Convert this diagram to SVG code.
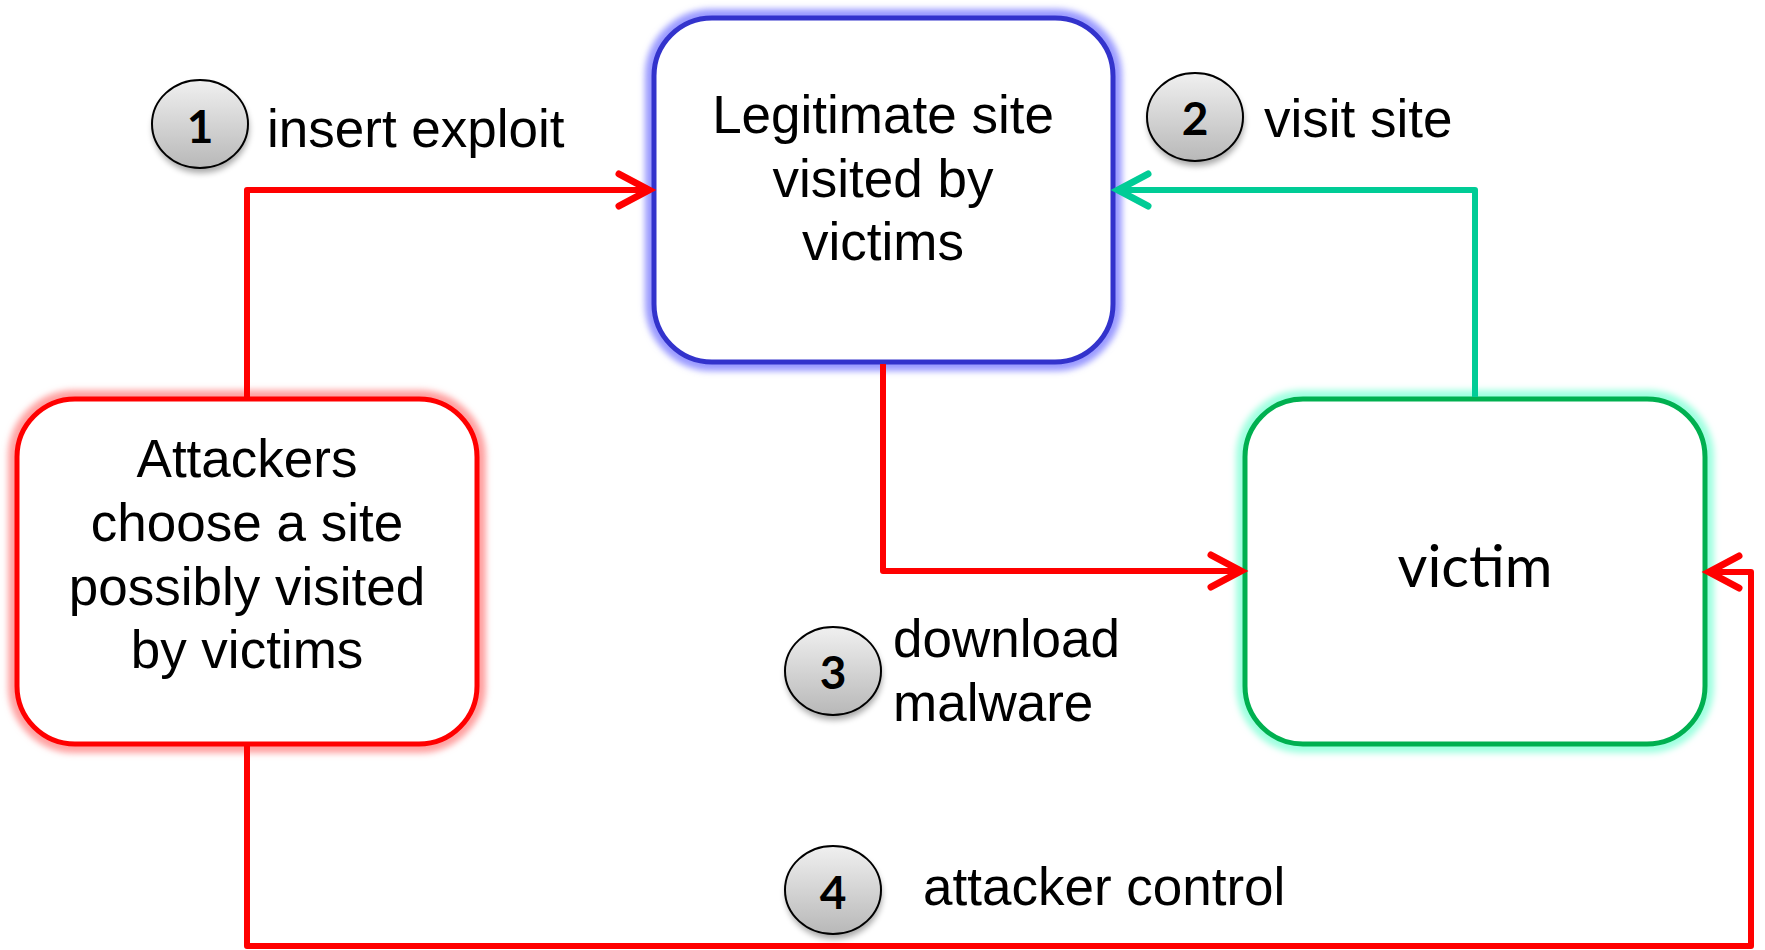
<svg xmlns="http://www.w3.org/2000/svg" width="1765" height="950" viewBox="0 0 1765 950">
  <style>
    .lbl { font-family: "Liberation Sans", Arial, sans-serif; font-size: 53px; fill: #000; }
    .mid { text-anchor: middle; }
    .num { font-family: Lato, "Open Sans", sans-serif; font-weight: bold; font-size: 46px; fill: #000; text-anchor: middle; }
    .box { fill: #fff; stroke-width: 5; }
    .halo { fill: none; stroke-width: 18; filter: url(#soft); }
    .badge { fill: url(#badgeFill); stroke: #000; stroke-width: 2; }
    .badge-shadow { fill: #000; opacity: 0.35; filter: url(#shade); }
    .wire { fill: none; stroke-width: 6; stroke-linejoin: round; }
  </style>
  <defs>
    <filter id="soft" x="-10%" y="-10%" width="120%" height="120%">
      <feGaussianBlur stdDeviation="3"/>
    </filter>
    <filter id="shade" x="-30%" y="-30%" width="160%" height="160%">
      <feGaussianBlur stdDeviation="3"/>
    </filter>
    <linearGradient id="badgeFill" x1="0" y1="0" x2="0" y2="1">
      <stop offset="0" stop-color="#f0f0f0"/>
      <stop offset="1" stop-color="#b8b8b8"/>
    </linearGradient>
    <marker id="headRed" markerUnits="userSpaceOnUse" markerWidth="50" markerHeight="50" viewBox="-40 -25 50 50" refX="0" refY="0" orient="auto" overflow="visible">
      <path d="M -31 -16 L -1 0 L -31 16" fill="none" stroke="#ff0000" stroke-width="7" stroke-linecap="round" stroke-linejoin="miter"/>
    </marker>
    <marker id="headTeal" markerUnits="userSpaceOnUse" markerWidth="50" markerHeight="50" viewBox="-40 -25 50 50" refX="0" refY="0" orient="auto" overflow="visible">
      <path d="M -31 -16 L -1 0 L -31 16" fill="none" stroke="#00cc96" stroke-width="7" stroke-linecap="round" stroke-linejoin="miter"/>
    </marker>
  </defs>

  <rect width="1765" height="950" fill="#fff"/>

  <!-- legitimate site -->
  <g id="site">
    <rect class="halo" x="654" y="18" width="459" height="344" rx="58" stroke="#9a9aff"/>
    <rect class="box" x="654" y="18" width="459" height="344" rx="58" stroke="#3333cc"/>
    <text class="lbl mid" x="883" y="133">Legitimate site</text>
    <text class="lbl mid" x="883" y="197">visited by</text>
    <text class="lbl mid" x="883" y="260">victims</text>
  </g>

  <!-- attackers -->
  <g id="attackers">
    <rect class="halo" x="17" y="399" width="460" height="345" rx="58" stroke="#ffa0a0"/>
    <rect class="box" x="17" y="399" width="460" height="345" rx="58" stroke="#ff0000"/>
    <text class="lbl mid" x="247" y="477">Attackers</text>
    <text class="lbl mid" x="247" y="541">choose a site</text>
    <text class="lbl mid" x="247" y="605">possibly visited</text>
    <text class="lbl mid" x="247" y="668">by victims</text>
  </g>

  <!-- victim -->
  <g id="victim">
    <rect class="halo" x="1245" y="399" width="460" height="345" rx="58" stroke="#9fffe0"/>
    <rect class="box" x="1245" y="399" width="460" height="345" rx="58" stroke="#00b050"/>
    <text x="1475" y="587" text-anchor="middle" font-family="Lato, 'Open Sans', sans-serif" font-size="58" fill="#000">victim</text>
  </g>

  <!-- connectors -->
  <g id="connectors">
    <path class="wire" stroke="#ff0000" d="M 247 397 V 190 H 650" marker-end="url(#headRed)"/>
    <path class="wire" stroke="#00cc96" d="M 1475 397 V 190 H 1117" marker-end="url(#headTeal)"/>
    <path class="wire" stroke="#ff0000" d="M 883 364 V 571 H 1242" marker-end="url(#headRed)"/>
    <path class="wire" stroke="#ff0000" d="M 247 746 V 946 H 1751 V 572 H 1708" marker-end="url(#headRed)"/>
  </g>

  <!-- step badges -->
  <g id="step1">
    <ellipse class="badge-shadow" cx="201" cy="129" rx="48" ry="44"/>
    <ellipse class="badge" cx="200" cy="124" rx="48" ry="44"/>
    <text class="num" x="200" y="143">1</text>
    <text class="lbl" x="267" y="147">insert exploit</text>
  </g>
  <g id="step2">
    <ellipse class="badge-shadow" cx="1196" cy="122" rx="48" ry="44"/>
    <ellipse class="badge" cx="1195" cy="117" rx="48" ry="44"/>
    <text class="num" x="1195" y="135">2</text>
    <text class="lbl" x="1264" y="137">visit site</text>
  </g>
  <g id="step3">
    <ellipse class="badge-shadow" cx="834" cy="676" rx="48" ry="44"/>
    <ellipse class="badge" cx="833" cy="671" rx="48" ry="44"/>
    <text class="num" x="833" y="689">3</text>
    <text class="lbl" x="893" y="657">download</text>
    <text class="lbl" x="893" y="721">malware</text>
  </g>
  <g id="step4">
    <ellipse class="badge-shadow" cx="834" cy="895" rx="48" ry="44"/>
    <ellipse class="badge" cx="833" cy="890" rx="48" ry="44"/>
    <text class="num" x="833" y="909">4</text>
    <text class="lbl" x="923" y="905" font-size="52">attacker control</text>
  </g>
</svg>
